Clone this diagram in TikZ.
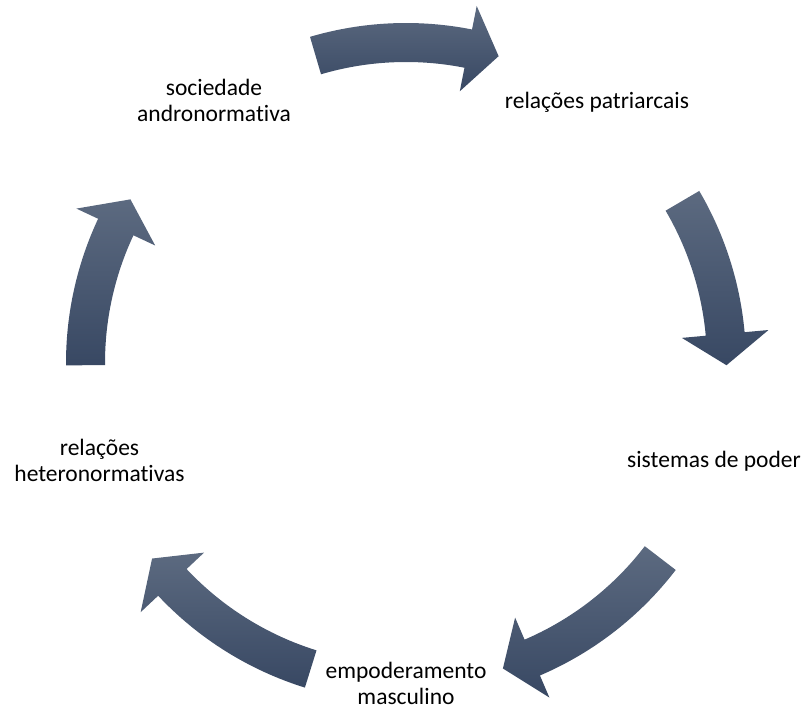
\documentclass[tikz,border=0pt]{standalone}
\usepackage{fontspec}
\setmainfont{Carlito}[Ligatures=NoCommon]
\definecolor{arrowtop}{RGB}{92,106,128}
\definecolor{arrowbottom}{RGB}{56,72,99}
\begin{document}
\begin{tikzpicture}[x=1pt,y=1pt,
  label/.style={font=\fontsize{23.5}{26}\selectfont, align=center, anchor=base, inner sep=0pt, text=black},
  cyclearrow/.style={top color=arrowtop, bottom color=arrowbottom, draw=none}]
\useasboundingbox (0,0) rectangle (806,711);

% stage labels (anchor base = baseline of the last line)
\node[label] (soc) at (214,589.3) {sociedade\\andronormativa};
\node[label] (pat) at (597,602.7) {relações patriarcais};
\node[label] (sis) at (714,243) {sistemas de poder};
\node[label] (emp) at (406,6) {empoderamento\\masculino};
\node[label] (het) at (99.5,229.3) {relações\\heteronormativas};

% curved arrows around the ring: tail angle / tip angle
\begin{scope}[shift={(406,348)}]
  \foreach \tail/\tip in {106.4/73.2, 30.4/-0.4, -37.5/-72.4, 252.7/217.6, 180.4/149.3} {
    \pgfmathsetmacro{\hbase}{\tip+5.6}
    \path[cyclearrow]
      (\tail:340) arc[start angle=\tail, end angle=\hbase, radius=340pt]
      -- (\hbase:364) -- (\tip:320.5) -- (\hbase:277)
      -- (\hbase:301) arc[start angle=\hbase, end angle=\tail, radius=301pt]
      -- cycle;
  }
\end{scope}
\end{tikzpicture}
\end{document}
